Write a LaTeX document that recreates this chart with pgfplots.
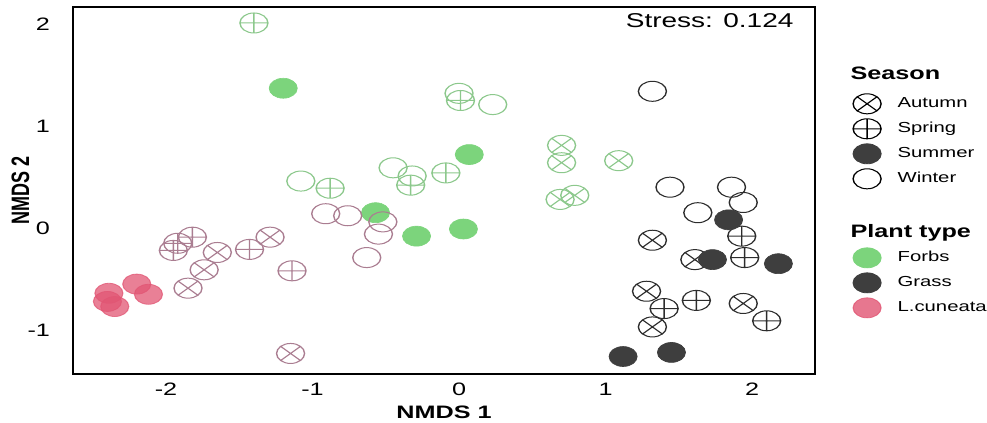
\documentclass[border=0pt]{standalone}
\usepackage{fontspec}
\setmainfont{Liberation Sans}
\usepackage{graphicx}
\usepackage{pgfplots}
\pgfplotsset{compat=1.18}
\definecolor{forbsL}{RGB}{140,200,140}
\definecolor{forbsF}{RGB}{124,212,124}
\definecolor{grassL}{RGB}{45,45,45}
\definecolor{grassF}{RGB}{62,62,62}
\definecolor{lcL}{RGB}{170,125,145}
\definecolor{lcF}{RGB}{225,85,115}
\pgfplotsset{
  ptA/.style={only marks, mark=otimes, mark size=5pt, mark options={draw=#1, line width=0.5pt}},
  ptS/.style={only marks, mark=oplus, mark size=5pt, mark options={draw=#1, line width=0.5pt}},
  ptW/.style={only marks, mark=o, mark size=5pt, mark options={draw=#1, line width=0.5pt}},
  ptF/.style={only marks, mark=*, mark size=5pt, mark options={draw=#1, fill=#1, line width=0.3pt}},
}
\begin{document}
\scalebox{1.4}[1]{%
\begin{tikzpicture}
\begin{axis}[
  scale only axis, width=265pt, height=183.5pt,
  xmin=-2.635, xmax=2.43, ymin=-1.431, ymax=2.167,
  xtick={-2,-1,0,1,2}, ytick={-1,0,1,2},
  major tick length=0pt,
  axis line style={line width=0.9pt},
  tick label style={font=\fontsize{9}{10}\selectfont},
  /pgf/number format/assume math mode=true,
  yticklabel style={xshift=-4.7pt},
  xticklabel style={yshift=-1pt},
  xlabel={NMDS 1}, ylabel={NMDS 2},
  xlabel style={yshift=2pt, font=\fontsize{9}{10}\selectfont\bfseries},
  every axis y label/.style={at={(axis description cs:-0.071,0.5)}, rotate=90, anchor=center, font=\fontsize{9}{10}\selectfont\bfseries},
  legend image code/.code={\draw[#1] plot coordinates {(0pt,0pt)};},
  legend style={draw=none, fill=none, at={(axis description cs:1,0.845)}, anchor=north west,
    xshift=13.4pt, yshift=-0.5pt, inner sep=0pt, row sep=2.5pt, column sep=4.9pt,
    nodes={inner sep=1pt}, font=\fontsize{7.25}{9}\selectfont},
  legend cell align=left,
]
% Forbs
\addplot[ptA=forbsL, forget plot] coordinates {(0.70,0.81) (0.70,0.64) (1.09,0.66) (0.69,0.28) (0.79,0.32)};
\addplot[ptS=forbsL, forget plot] coordinates {(-1.40,2.01) (-0.88,0.39) (-0.33,0.42) (-0.09,0.54) (0.01,1.25)};
\addplot[ptW=forbsL, forget plot] coordinates {(0.00,1.32) (0.23,1.21) (-1.08,0.46) (-0.45,0.59) (-0.32,0.51)};
\addplot[ptF=forbsF, forget plot] coordinates {(-1.20,1.37) (0.07,0.72) (-0.57,0.15) (-0.29,-0.08) (0.03,-0.01)};
% Grass
\addplot[ptA=grassL, forget plot] coordinates {(1.32,-0.12) (1.61,-0.31) (1.28,-0.62) (1.94,-0.74) (1.32,-0.97)};
\addplot[ptS=grassL, forget plot] coordinates {(1.93,-0.08) (1.95,-0.29) (1.62,-0.71) (1.40,-0.79) (2.10,-0.91)};
\addplot[ptW=grassL, forget plot] coordinates {(1.32,1.34) (1.44,0.40) (1.86,0.40) (1.94,0.25) (1.63,0.15)};
\addplot[ptF=grassF, forget plot] coordinates {(1.84,0.08) (1.73,-0.31) (2.18,-0.35) (1.12,-1.26) (1.45,-1.22)};
% L.cuneata
\addplot[ptA=lcL, forget plot] coordinates {(-1.65,-0.24) (-1.74,-0.41) (-1.85,-0.59) (-1.29,-0.09) (-1.15,-1.23)};
\addplot[ptS=lcL, forget plot] coordinates {(-1.82,-0.09) (-1.95,-0.22) (-1.92,-0.15) (-1.43,-0.21) (-1.14,-0.42)};
\addplot[ptW=lcL, forget plot] coordinates {(-0.91,0.14) (-0.76,0.12) (-0.52,0.06) (-0.55,-0.06) (-0.63,-0.29)};
\addplot[only marks, mark=*, mark size=5pt, mark options={draw=lcF, fill=lcF, opacity=0.75}, forget plot] coordinates {(-2.39,-0.64) (-2.40,-0.72) (-2.35,-0.77) (-2.20,-0.55) (-2.12,-0.65)};
% legend
\addlegendimage{empty legend}
\addlegendentry{\hspace{-16.8pt}\raisebox{2pt}{\fontsize{9}{10}\selectfont\bfseries Season}}
\addlegendimage{mark=otimes, mark size=5pt, mark options={draw=black, line width=0.5pt}}
\addlegendentry{Autumn}
\addlegendimage{mark=oplus, mark size=5pt, mark options={draw=black, line width=0.5pt}}
\addlegendentry{Spring}
\addlegendimage{mark=*, mark size=5pt, mark options={draw=grassF, fill=grassF}}
\addlegendentry{Summer}
\addlegendimage{mark=o, mark size=5pt, mark options={draw=black, line width=0.5pt}}
\addlegendentry{Winter}
\addlegendimage{empty legend}
\addlegendentry{\rule{0pt}{8.5pt}}
\addlegendimage{empty legend}
\addlegendentry{\hspace{-16.8pt}\fontsize{9}{10}\selectfont\bfseries Plant type}
\addlegendimage{mark=*, mark size=5pt, mark options={draw=forbsF, fill=forbsF}}
\addlegendentry{Forbs}
\addlegendimage{mark=*, mark size=5pt, mark options={draw=grassF, fill=grassF}}
\addlegendentry{Grass}
\addlegendimage{mark=*, mark size=5pt, mark options={draw=lcF, fill=lcF, opacity=0.8}}
\addlegendentry{L.cuneata}
\node[anchor=north east, inner sep=0pt, font=\fontsize{10}{12}\selectfont] at (rel axis cs:1,1) [xshift=-7.5pt, yshift=-3pt] {Stress: 0.124};
\coordinate (bbl) at (rel axis cs:-0.0984,-0.1335);
\coordinate (btr) at (rel axis cs:1.2318,1.019);
\end{axis}
\pgfresetboundingbox
\useasboundingbox (bbl) rectangle (btr);
\end{tikzpicture}}
\end{document}
